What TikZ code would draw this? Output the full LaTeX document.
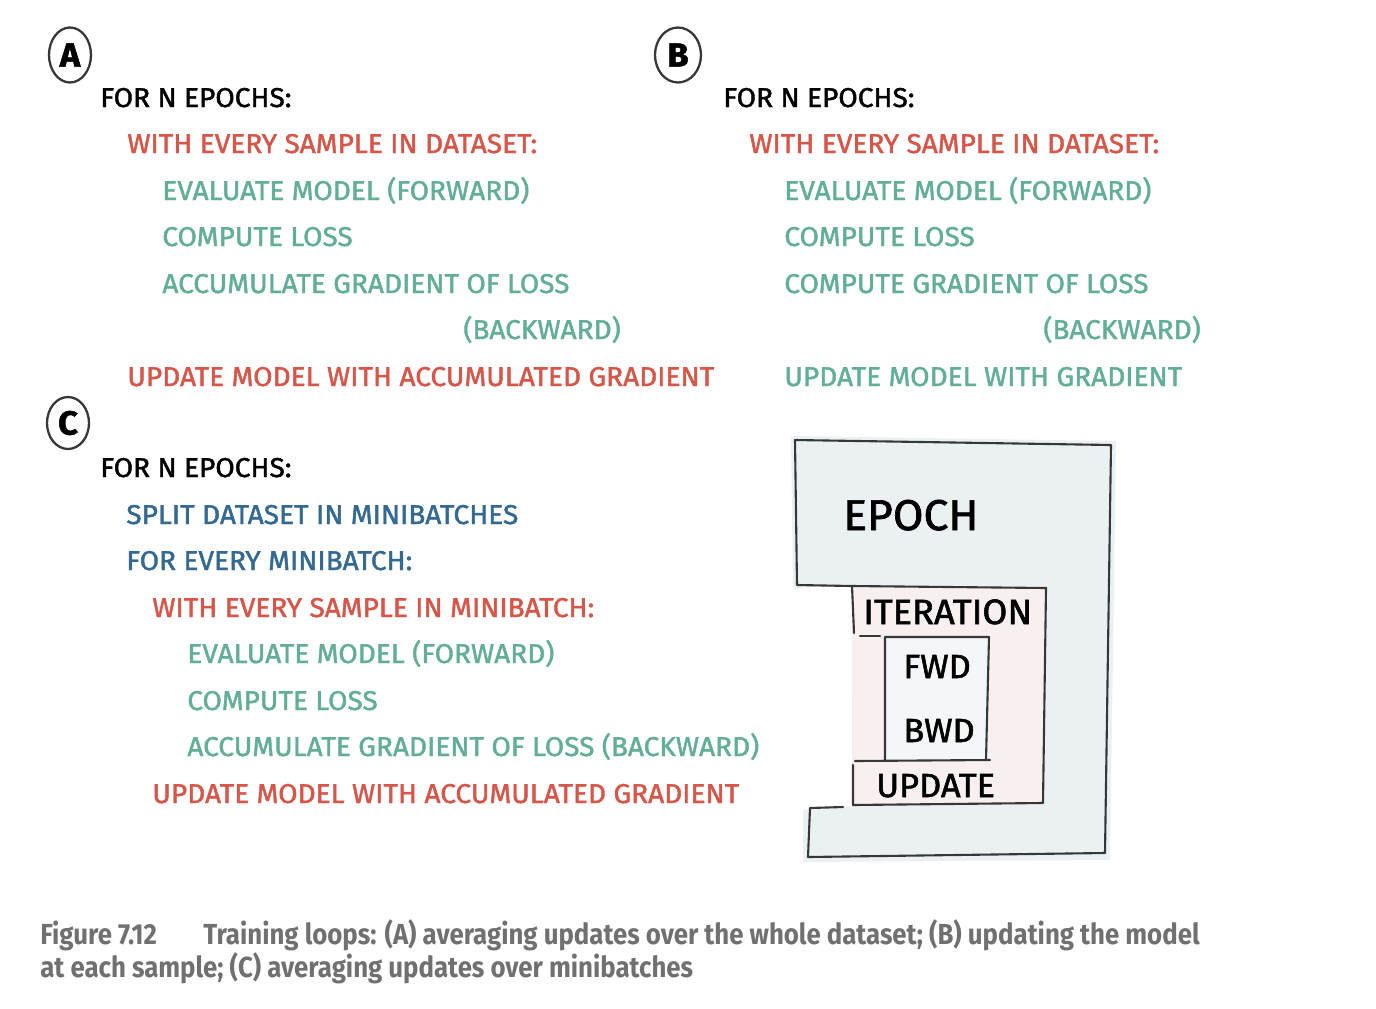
\documentclass[tikz,border=0pt]{standalone}
\usepackage{fontspec}
\usepackage{xcolor}
\usepackage{tikz}
\usetikzlibrary{calc, shapes.geometric, positioning}

\newfontfamily\handfont{Fira Sans}[FakeStretch=1.03, FakeBold=1.6]
\newfontfamily\capfont{Fira Sans}[FakeStretch=0.89]

\definecolor{loopred}{RGB}{214,86,74}
\definecolor{loopgreen}{RGB}{98,174,152}
\definecolor{loopblue}{RGB}{52,105,145}
\definecolor{capgray}{RGB}{112,112,112}
\definecolor{boxline}{RGB}{55,55,55}
\definecolor{boxfill}{RGB}{235,241,242}
\definecolor{iterfill}{RGB}{248,240,240}

\tikzset{
    codeline/.style={anchor=base west, inner sep=0pt, font=\handfont\fontsize{15.5}{18}\selectfont},
    tag/.style={draw=boxline, line width=1.3pt, ellipse, minimum width=0.84cm, minimum height=1.1cm, inner sep=0pt,
                font=\handfont\bfseries\fontsize{19}{22}\selectfont},
    boxlabel/.style={anchor=base west, inner sep=0pt, text=black},
    sketch/.style={draw=boxline, line width=1.2pt, line join=round, line cap=round},
    caption/.style={anchor=base west, inner sep=0pt, text=capgray, font=\capfont\bfseries\fontsize{16.5}{20}\selectfont}
}

\begin{document}
\begin{tikzpicture}[x=0.02cm, y=-0.02cm]

    \useasboundingbox (0,0) rectangle (1376,1008);

    % =================================================================
    % 1. NHAN A, B, C
    % =================================================================
    \node[tag, minimum width=0.84cm] (tagA) at (70,55) {A};
    \node[tag, minimum width=0.92cm] (tagB) at (678,55) {B};
    \node[tag, minimum height=1.04cm] (tagC) at (68,423) {C};

    % =================================================================
    % 2. VONG LAP (A)
    % =================================================================
    \node[codeline] (A1) at (100,107) {FOR N EPOCHS:};
    \node[codeline, text=loopred] (A2) at (127,153) {WITH EVERY SAMPLE IN DATASET:};
    \node[codeline, text=loopgreen] (A3) at (162,200) {EVALUATE MODEL (FORWARD)};
    \node[codeline, text=loopgreen] (A4) at (162,246) {COMPUTE LOSS};
    \node[codeline, text=loopgreen] (A5) at (162,293) {ACCUMULATE GRADIENT OF LOSS};
    \node[codeline, text=loopgreen] (A6) at (463,339) {(BACKWARD)};
    \node[codeline, text=loopred] (A7) at (127,386) {UPDATE MODEL WITH ACCUMULATED GRADIENT};

    % =================================================================
    % 3. VONG LAP (B)
    % =================================================================
    \node[codeline] (B1) at (723,107) {FOR N EPOCHS:};
    \node[codeline, text=loopred] (B2) at (749,153) {WITH EVERY SAMPLE IN DATASET:};
    \node[codeline, text=loopgreen] (B3) at (784,200) {EVALUATE MODEL (FORWARD)};
    \node[codeline, text=loopgreen] (B4) at (784,246) {COMPUTE LOSS};
    \node[codeline, text=loopgreen] (B5) at (784,293) {COMPUTE GRADIENT OF LOSS};
    \node[codeline, text=loopgreen] (B6) at (1043,339) {(BACKWARD)};
    \node[codeline, text=loopgreen] (B7) at (784,386) {UPDATE MODEL WITH GRADIENT};

    % =================================================================
    % 4. VONG LAP (C)
    % =================================================================
    \node[codeline] (C1) at (100,477) {FOR N EPOCHS:};
    \node[codeline, text=loopblue] (C2) at (126,524) {SPLIT DATASET IN MINIBATCHES};
    \node[codeline, text=loopblue] (C3) at (126,570) {FOR EVERY MINIBATCH:};
    \node[codeline, text=loopred] (C4) at (152,617) {WITH EVERY SAMPLE IN MINIBATCH:};
    \node[codeline, text=loopgreen] (C5) at (187,663) {EVALUATE MODEL (FORWARD)};
    \node[codeline, text=loopgreen] (C6) at (187,710) {COMPUTE LOSS};
    \node[codeline, text=loopgreen] (C7) at (187,756) {ACCUMULATE GRADIENT OF LOSS (BACKWARD)};
    \node[codeline, text=loopred] (C8) at (152,803) {UPDATE MODEL WITH ACCUMULATED GRADIENT};

    % =================================================================
    % 5. SO DO EPOCH / ITERATION
    % =================================================================
    % Nen mau nhat
    \fill[boxfill] (791,436) -- (1116,441) -- (1110,860) -- (803,862) -- (803,810)
        -- (852,806) -- (852,586) -- (793,588) -- cycle;
    \fill[iterfill] (852,586) -- (1046,588) -- (1043,803) -- (853,805) -- cycle;
    \fill[boxfill!60] (885,637) -- (989,637) -- (986,760) -- (885,760) -- cycle;

    % Vien epoch
    \draw[sketch] (843,807) -- (810,808) -- (808,857) -- (1105,853) -- (1111,445)
        -- (795,440) -- (797,585) -- (852,586);
    % Vien iteration
    \draw[sketch] (852,586) -- (1046,588) -- (1043,803) -- (853,805) -- (853,765);
    \draw[sketch] (852,586) -- (854,633);
    \draw[sketch] (860,636) -- (880,636);
    % Hop FWD / BWD
    \draw[sketch] (885,760) -- (885,637) -- (989,637) -- (986,760);
    \draw[sketch] (855,761) -- (990,760);

    % Nhan trong so do
    \node[boxlabel, font=\handfont\fontsize{24.5}{28}\selectfont] (epoch) at (843,530) {EPOCH};
    \node[boxlabel, font=\handfont\fontsize{20}{24}\selectfont] (iter) at (863,624) {ITERATION};
    \node[boxlabel, font=\handfont\fontsize{19}{22}\selectfont] (fwd) at (903,678) {FWD};
    \node[boxlabel, font=\handfont\fontsize{19}{22}\selectfont] (bwd) at (903,742) {BWD};
    \node[boxlabel, font=\handfont\fontsize{19}{22}\selectfont] (update) at (876,797) {UPDATE};

    % =================================================================
    % 6. CHU THICH HINH
    % =================================================================
    \node[caption] (capnum) at (40,944) {Figure 7.12};
    \node[caption] (capA) at (203,944) {Training loops: (A) averaging updates over the whole dataset; (B) updating the model};
    \node[caption] (capB) at (40,977) {at each sample; (C) averaging updates over minibatches};

\end{tikzpicture}
\end{document}
